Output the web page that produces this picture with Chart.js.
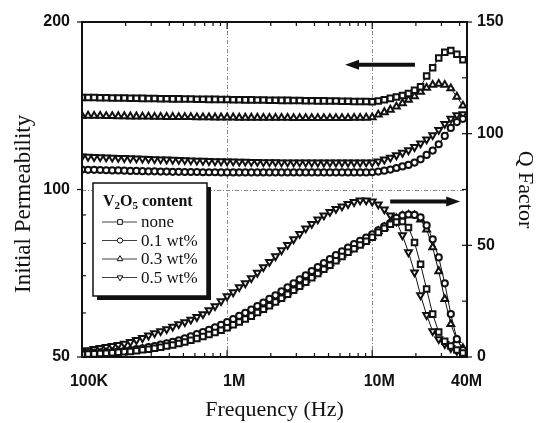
<!DOCTYPE html>
<html><head><meta charset="utf-8">
<script src="https://cdn.jsdelivr.net/npm/chart.js@4"></script>
<style>html,body{margin:0;padding:0;background:#fff}#wrap{width:538px;height:423px}</style>
</head><body><div id="wrap"><canvas id="c" width="538" height="423"></canvas></div>
<script>
// ---------- DATA ----------
const freqHz = [
 1.000e5,1.101e5,1.212e5,1.334e5,1.468e5,1.616e5,1.778e5,1.957e5,2.154e5,2.371e5,2.610e5,2.873e5,
 3.162e5,3.481e5,3.831e5,4.217e5,4.642e5,5.109e5,5.623e5,6.190e5,6.813e5,7.499e5,8.254e5,9.085e5,
 1.000e6,1.101e6,1.212e6,1.334e6,1.468e6,1.616e6,1.778e6,1.957e6,2.154e6,2.371e6,2.610e6,2.873e6,
 3.162e6,3.481e6,3.831e6,4.217e6,4.642e6,5.109e6,5.623e6,6.190e6,6.813e6,7.499e6,8.254e6,9.085e6,
 1.000e7,1.101e7,1.212e7,1.334e7,1.468e7,1.616e7,1.778e7,1.957e7,2.154e7,2.371e7,2.610e7,2.873e7,
 3.162e7,3.481e7,3.831e7,4.217e7];

const seriesLabels = ['none','0.1 wt%','0.3 wt%','0.5 wt%'];

// Initial permeability (left axis)
const permNone = [
 146.4,146.3,146.3,146.2,146.2,146.1,146.0,146.0,145.9,145.9,145.8,145.7,145.7,145.6,145.6,145.5,145.5,145.4,145.4,145.3,145.3,145.2,145.2,145.1,145.1,
 145.0,145.0,144.9,144.9,144.8,144.8,144.7,144.7,144.6,144.6,144.5,144.5,144.4,144.4,144.3,144.3,144.2,144.2,144.1,144.1,144.0,144.0,143.9,
 143.8,144.2,145.0,145.8,146.6,147.5,148.8,150.8,153.0,160.0,165.5,172.4,176.5,177.8,175.0,171.0];
const perm01 = [
 108.6,108.5,108.5,108.4,108.3,108.2,108.2,108.1,108.0,108.0,107.9,107.8,107.8,107.7,107.7,107.6,107.6,107.5,107.5,107.5,107.4,107.4,107.4,107.3,107.3,
 107.3,107.3,107.3,107.3,107.3,107.3,107.3,107.3,107.3,107.3,107.3,107.3,107.3,107.3,107.3,107.3,107.3,107.3,107.3,107.3,107.3,107.3,107.3,
 107.4,107.7,108.1,108.6,109.3,110.0,110.7,111.8,113.3,115.4,117.5,120.6,124.8,129.0,132.2,134.0];
const perm03 = [
 135.7,135.7,135.6,135.6,135.5,135.5,135.4,135.4,135.3,135.3,135.2,135.2,135.1,135.1,135.0,135.0,134.9,134.9,134.9,134.8,134.8,134.8,134.7,134.7,134.7,
 134.7,134.6,134.6,134.6,134.6,134.5,134.5,134.5,134.5,134.5,134.4,134.4,134.4,134.4,134.4,134.4,134.4,134.4,134.4,134.4,134.5,134.5,134.6,
 134.8,136.3,137.7,139.1,140.9,142.9,145.0,147.1,149.8,152.3,154.2,154.8,154.2,152.0,146.8,141.5];
const perm05 = [
 114.6,114.5,114.4,114.3,114.2,114.1,114.0,113.9,113.8,113.7,113.6,113.5,113.4,113.3,113.2,113.1,113.0,112.9,112.8,112.7,112.6,112.5,112.4,112.4,112.3,
 112.3,112.2,112.2,112.1,112.1,112.0,112.0,112.0,111.9,111.9,111.9,111.9,111.8,111.8,111.8,111.8,111.8,111.8,111.8,111.8,111.8,111.8,111.9,
 111.9,112.3,113.2,114.1,115.2,116.4,117.6,119.2,121.0,123.0,125.2,128.0,131.2,134.0,136.0,136.5];

// Q factor (right axis)
const qNone = [
 1.2,1.3,1.4,1.6,1.7,1.9,2.1,2.3,2.5,2.8,3.2,3.5,3.9,4.4,4.9,5.4,6.0,6.7,7.5,8.3,9.2,10.1,11.0,12.0,13.1,
 14.4,15.7,17.0,18.3,19.9,21.4,23.0,24.6,26.3,28.1,29.9,31.7,33.5,35.5,37.4,39.3,41.1,43.1,45.0,46.9,48.5,50.1,51.8,
 53.6,55.8,57.6,59.4,60.5,60.7,58.0,51.3,41.5,30.4,19.2,11.2,7.1,4.9,3.1,1.8];
const q01 = [
 1.4,1.5,1.6,1.8,2.0,2.2,2.5,2.8,3.1,3.5,3.9,4.4,4.9,5.5,6.1,6.8,7.5,8.3,9.2,10.2,11.2,12.2,13.3,14.4,15.6,
 17.0,18.4,19.8,21.2,22.8,24.4,26.0,27.6,29.4,31.2,33.0,34.8,36.6,38.5,40.3,42.1,43.8,45.6,47.3,49.0,50.5,52.0,53.5,
 54.9,56.7,58.5,60.0,62.3,63.4,63.8,63.6,62.5,58.9,52.7,44.6,33.0,19.2,8.0,3.1];
const q03 = [
 1.3,1.4,1.5,1.7,1.8,2.0,2.2,2.5,2.7,3.0,3.4,3.8,4.2,4.8,5.3,5.9,6.5,7.2,8.0,8.9,9.8,10.7,11.7,12.7,13.8,
 15.2,16.5,17.9,19.2,20.8,22.3,23.9,25.5,27.2,29.0,30.8,32.6,34.4,36.4,38.3,40.2,42.0,44.0,45.9,47.8,49.3,50.9,52.5,
 54.0,56.3,58.0,60.3,62.1,63.2,63.6,63.4,61.6,57.1,49.1,38.4,25.9,14.7,7.6,4.0];
const q05 = [
 2.7,3.1,3.6,4.0,4.5,4.9,5.4,6.0,6.7,7.6,8.5,9.6,10.7,11.6,12.5,13.6,14.7,15.6,16.7,17.9,19.2,21.0,22.8,25.0,27.2,
 29.0,31.3,33.0,35.3,37.7,40.2,42.6,45.1,47.8,50.2,52.7,55.1,57.6,59.6,61.6,63.4,65.0,66.3,67.4,68.5,69.4,70.1,70.1,
 69.6,68.3,66.1,63.4,60.7,54.5,46.9,37.9,27.7,18.8,11.6,8.0,5.8,4.0,2.7,1.3];

const xTickValues = [1e5, 1e6, 1e7, 4e7];
const xTickLabels = ['100K', '1M', '10M', '40M'];
const yLeftTickValues = [50, 100, 200];
const yRightTickValues = [0, 50, 100, 150];

// ---------- STYLES ----------
const markers = [
  {style:'rect', rot:0, r:3.9},
  {style:'circle', rot:0, r:3.1},
  {style:'triangle', rot:0, r:3.9},
  {style:'triangle', rot:180, r:3.9}
];
const permSeries = [permNone, perm01, perm03, perm05];
const qSeries = [qNone, q01, q03, q05];

function mkDataset(arr, k, axis) {
  return {
    label: seriesLabels[k],
    data: freqHz.map((f, i) => ({x: f, y: arr[i]})),
    yAxisID: axis,
    borderColor: '#111',
    borderWidth: 1,
    pointStyle: markers[k].style,
    rotation: markers[k].rot,
    pointRadius: markers[k].r,
    pointBorderWidth: 2,
    pointBorderColor: '#111',
    pointBackgroundColor: '#fff',
    tension: 0,
    fill: false
  };
}
const datasets = [];
permSeries.forEach((a, k) => datasets.push(mkDataset(a, k, 'yL')));
qSeries.forEach((a, k) => datasets.push(mkDataset(a, k, 'yR')));

const annotArrows = [
  {axis:'yL', y:167.5, fromX:1.97e7, toX:6.5e6},
  {axis:'yR', y:69.6, fromX:1.33e7, toX:4.04e7}
];

function drawMarker(ctx, m, x, y, r) {
  ctx.beginPath();
  if (m.style === 'rect') {
    const s = Math.SQRT1_2 * r;
    ctx.rect(x - s, y - s, 2 * s, 2 * s);
  } else if (m.style === 'circle') {
    ctx.arc(x, y, r, 0, Math.PI * 2);
  } else {
    let rad = m.rot * Math.PI / 180;
    for (let j = 0; j < 3; j++) {
      const px = x + Math.sin(rad) * r, py = y - Math.cos(rad) * r;
      if (j === 0) ctx.moveTo(px, py); else ctx.lineTo(px, py);
      rad += 2 * Math.PI / 3;
    }
    ctx.closePath();
  }
  ctx.fillStyle = '#fff'; ctx.fill();
  ctx.lineWidth = 1; ctx.strokeStyle = '#111'; ctx.stroke();
}

function drawArrow(ctx, x1, x2, y) {
  const dir = Math.sign(x2 - x1);
  const headLen = 14, headHalf = 5;
  ctx.save();
  ctx.strokeStyle = '#111'; ctx.fillStyle = '#111';
  ctx.lineWidth = 4;
  ctx.beginPath(); ctx.moveTo(x1, y); ctx.lineTo(x2 - dir * headLen + dir * 2, y); ctx.stroke();
  ctx.beginPath();
  ctx.moveTo(x2, y);
  ctx.lineTo(x2 - dir * headLen, y - headHalf);
  ctx.lineTo(x2 - dir * headLen, y + headHalf);
  ctx.closePath(); ctx.fill();
  ctx.restore();
}

const decorPlugin = {
  id: 'decor',
  beforeDatasetsDraw(chart) {
    const {ctx, chartArea: ca, scales} = chart;
    ctx.save();
    ctx.strokeStyle = '#888'; ctx.lineWidth = 1; ctx.setLineDash([4, 2, 1, 2]);
    [1e6, 1e7].forEach(v => {
      const px = Math.round(scales.x.getPixelForValue(v)) + 0.5;
      ctx.beginPath(); ctx.moveTo(px, ca.top); ctx.lineTo(px, ca.bottom); ctx.stroke();
    });
    const py = Math.round(scales.yL.getPixelForValue(100)) + 0.5;
    ctx.beginPath(); ctx.moveTo(ca.left, py); ctx.lineTo(ca.right, py); ctx.stroke();
    ctx.restore();
  },
  afterDatasetsDraw(chart) {
    const {ctx, chartArea: ca, scales} = chart;
    ctx.save();
    ctx.strokeStyle = '#111'; ctx.lineWidth = 2;
    ctx.strokeRect(ca.left, ca.top, ca.right - ca.left, ca.bottom - ca.top);
    ctx.lineWidth = 1.2;
    [1e5, 1e6, 1e7].forEach(d => {
      for (let m = 1; m <= 9; m++) {
        const v = m * d;
        if (v > scales.x.max) break;
        const px = scales.x.getPixelForValue(v);
        const len = m === 1 ? 7 : 4;
        ctx.beginPath();
        ctx.moveTo(px, ca.bottom); ctx.lineTo(px, ca.bottom - len);
        ctx.moveTo(px, ca.top); ctx.lineTo(px, ca.top + len);
        ctx.stroke();
      }
    });
    [60, 70, 80, 90].forEach(v => {
      const py = scales.yL.getPixelForValue(v);
      ctx.beginPath(); ctx.moveTo(ca.left, py); ctx.lineTo(ca.left + 4, py); ctx.stroke();
    });
    yLeftTickValues.forEach(v => {
      const py = scales.yL.getPixelForValue(v);
      ctx.beginPath(); ctx.moveTo(ca.left, py); ctx.lineTo(ca.left - 5, py); ctx.stroke();
    });
    for (let v = 25; v < 150; v += 25) {
      const py = scales.yR.getPixelForValue(v);
      ctx.beginPath(); ctx.moveTo(ca.right, py); ctx.lineTo(ca.right - 5, py); ctx.stroke();
    }
    yRightTickValues.forEach(v => {
      const py = scales.yR.getPixelForValue(v);
      ctx.beginPath(); ctx.moveTo(ca.right, py); ctx.lineTo(ca.right + 5, py); ctx.stroke();
    });
    annotArrows.forEach(a => {
      const y = scales[a.axis].getPixelForValue(a.y);
      drawArrow(ctx, scales.x.getPixelForValue(a.fromX), scales.x.getPixelForValue(a.toX), y);
    });
    ctx.restore();
  },
  afterDraw(chart) {
    const ctx = chart.ctx;
    ctx.save();
    const bx = 93, by = 183, bw = 114, bh = 113;
    ctx.fillStyle = '#111'; ctx.fillRect(bx + 4, by + 4, bw, bh);
    ctx.fillStyle = '#fff'; ctx.fillRect(bx, by, bw, bh);
    ctx.strokeStyle = '#111'; ctx.lineWidth = 1.5; ctx.strokeRect(bx, by, bw, bh);
    ctx.fillStyle = '#111'; ctx.textBaseline = 'alphabetic'; ctx.textAlign = 'left';
    const big = 'bold 16px "Liberation Serif", "Times New Roman", serif';
    const small = 'bold 11px "Liberation Serif", "Times New Roman", serif';
    let tx = 103; const ty = 206;
    [['V', big, 0], ['2', small, 3], ['O', big, 0], ['5', small, 3], [' content', big, 0]].forEach(p => {
      ctx.font = p[1]; ctx.fillText(p[0], tx, ty + p[2]); tx += ctx.measureText(p[0]).width;
    });
    ctx.font = '17px "Liberation Serif", "Times New Roman", serif';
    seriesLabels.forEach((lab, k) => {
      const base = 227 + k * 18.5, my = base - 5;
      ctx.strokeStyle = '#111'; ctx.lineWidth = 0.8;
      ctx.beginPath(); ctx.moveTo(102, my); ctx.lineTo(137, my); ctx.stroke();
      drawMarker(ctx, markers[k], 120, my, markers[k].r * 0.85);
      ctx.fillStyle = '#111';
      ctx.fillText(lab, 141, base);
    });
    ctx.restore();
  }
};

const tickFont = {family: '"Liberation Sans", Arial, sans-serif', size: 16, weight: 'bold'};
const titleFontFamily = '"Liberation Serif", "Times New Roman", serif';

new Chart(document.getElementById('c'), {
  type: 'line',
  data: {datasets},
  options: {
    responsive: false,
    animation: false,
    devicePixelRatio: 1,
    layout: {padding: {top: 22, left: 0, right: 0, bottom: 0}},
    plugins: {legend: {display: false}, tooltip: {enabled: false}},
    scales: {
      x: {
        type: 'logarithmic', position: 'bottom', min: 1e5, max: 4.5e7,
        afterBuildTicks: s => { s.ticks = xTickValues.map(v => ({value: v})); },
        afterFit: s => { s.height = 66; },
        grid: {display: false, drawTicks: false},
        border: {display: false},
        ticks: {
          font: tickFont, color: '#111', padding: 15, labelOffset: 7,
          maxRotation: 0, autoSkip: false,
          callback: (v) => { const i = xTickValues.indexOf(v); return i >= 0 ? xTickLabels[i] : ''; }
        },
        title: {display: true, text: 'Frequency (Hz)', color: '#111',
          font: {family: titleFontFamily, size: 22}, padding: {top: 0, bottom: 0}}
      },
      yL: {
        type: 'logarithmic', position: 'left', min: 50, max: 200,
        afterBuildTicks: s => { s.ticks = yLeftTickValues.map(v => ({value: v})); },
        afterFit: s => { s.width = 82; },
        grid: {display: false, drawTicks: false},
        border: {display: false},
        ticks: {font: tickFont, color: '#111', padding: 12, callback: v => String(v)},
        title: {display: true, text: 'Initial Permeability     ', color: '#111',
          font: {family: titleFontFamily, size: 23}, padding: {top: 10, bottom: 0}}
      },
      yR: {
        type: 'linear', position: 'right', min: 0, max: 150,
        afterBuildTicks: s => { s.ticks = yRightTickValues.map(v => ({value: v})); },
        afterFit: s => { s.width = 71; },
        grid: {display: false, drawTicks: false},
        border: {display: false},
        ticks: {font: tickFont, color: '#111', padding: 10, callback: v => String(v)},
        title: {display: true, text: 'Q Factor', color: '#111',
          font: {family: titleFontFamily, size: 22}, padding: {top: 0, bottom: 0}}
      }
    }
  },
  plugins: [decorPlugin]
});
</script>
</body></html>
